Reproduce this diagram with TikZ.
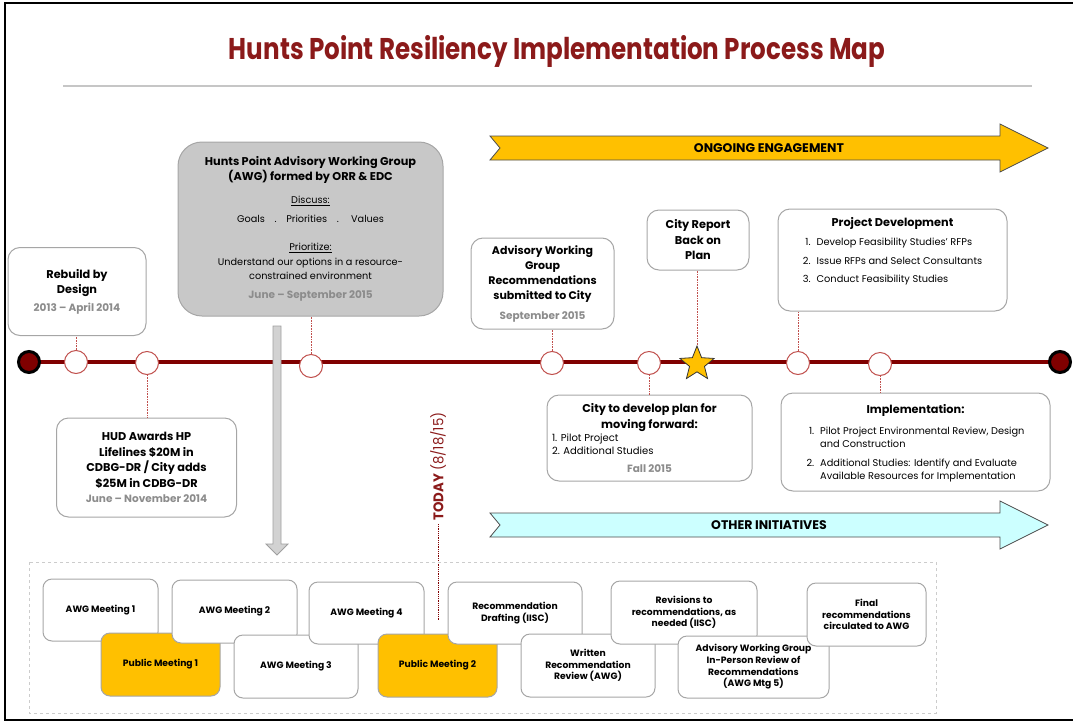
\documentclass[tikz,border=0pt]{standalone}
\usepackage{fontspec}
\setmainfont{Poppins}
\usepackage{xcolor}
\usetikzlibrary{
    shapes.geometric,
    positioning
}
\definecolor{hpred}{HTML}{8B1A1A}
\definecolor{tlred}{HTML}{800000}
\definecolor{dotred}{HTML}{C0504D}
\definecolor{hpyellow}{HTML}{FFC000}
\definecolor{hpcyan}{HTML}{CCFFFF}
\definecolor{boxgray}{HTML}{A6A6A6}
\definecolor{awgfill}{HTML}{C8C8C8}
\definecolor{dategray}{HTML}{8C8C8C}
\newcommand{\when}[1]{{\color{dategray}\fontsize{10.5}{13}\selectfont\bfseries #1}}
\newcommand{\sm}[1]{{\mdseries\fontsize{9.7}{12}\selectfont #1}}
\tikzset{
    box/.style={draw=boxgray, line width=1pt, rounded corners=12pt, fill=white, align=center, inner sep=2pt,
        font=\fontsize{11.3}{15.5}\selectfont\bfseries},
    mtg/.style={box, rounded corners=9pt, font=\fontsize{9.2}{11.7}\selectfont\bfseries},
    dot/.style={circle, draw=dotred, line width=1pt, fill=white, minimum size=23pt, inner sep=0pt},
    endpt/.style={circle, draw=black, line width=3pt, fill=tlred, minimum size=21pt, inner sep=0pt},
    conn/.style={draw=dotred, densely dotted, line width=0.6pt},
    band/.style={draw=black!70, line width=0.8pt},
    bandlbl/.style={font=\fontsize{12.5}{14}\selectfont\bfseries}
}
\begin{document}
\begin{tikzpicture}[x=1pt,y=-1pt]
\useasboundingbox (0,0) rectangle (1073,723);
% frame and title
\draw[line width=1.5pt] (1073,3) -- (5,3) -- (5,720) -- (1073,720);
\node[text=hpred, font=\fontsize{30}{32}\selectfont\bfseries] (ttl) at (557,51) {\scalebox{0.82}[1]{Hunts Point Resiliency Implementation Process Map}};
\draw[line width=2pt, gray!45] (63,86) -- (1032,86);

% engagement bands
\draw[band, fill=hpyellow] (490,136) -- (1000,136) -- (1000,124) -- (1048,148) -- (1000,172) -- (1000,160) -- (490,160) -- (500,148) -- cycle;
\node[bandlbl] (ongoing) at (769,148) {ONGOING ENGAGEMENT};
\draw[band, fill=hpcyan] (490,513) -- (1000,513) -- (1000,501) -- (1048,525) -- (1000,549) -- (1000,537) -- (490,537) -- (500,525) -- cycle;
\node[bandlbl] (other) at (769,525) {OTHER INITIATIVES};

% timeline
\coordinate (tlstart) at (29,362);
\coordinate (tlend) at (1060,362);
\draw[line width=4pt, tlred] (tlstart) -- (tlend);
\node[endpt] (lend) at (tlstart) {};
\node[endpt] (rend) at (tlend) {};
\node[dot] (t1) at (76,362) {};
\node[dot] (t2) at (147,363) {};
\node[dot] (t3) at (311,366) {};
\node[dot] (t4) at (552,363) {};
\node[dot] (t5) at (649,363) {};
\node[dot] (t6) at (798,363) {};
\node[dot] (t7) at (880,364) {};
\node[star, star points=5, star point ratio=2.3, minimum size=36pt, inner sep=0pt, fill=hpyellow, draw=black!80, line width=0.8pt] (rptstar) at (697,364) {};

% milestone boxes
\node[box, minimum width=138, minimum height=88] (rbd) at (77,291.5)
    {Rebuild by\\ Design\\[2pt] \when{2013 – April 2014}};
\node[box, fill=awgfill, rounded corners=24pt, minimum width=265, minimum height=174] (awg) at (310.5,229)
    {Hunts Point Advisory Working Group\\ (AWG) formed by ORR \& EDC\\[7pt]
     \sm{\underline{Discuss:}}\\[4pt]
     \sm{Goals\quad.\quad Priorities\quad.\quad\ Values}\\[12pt]
     \sm{\underline{Prioritize:}}\\ \sm{Understand our options in a resource-}\\[-2pt] \sm{constrained environment}\\[4pt]
     \when{June – September 2015}};
\node[box, minimum width=180, minimum height=99] (hud) at (146.5,467.5)
    {HUD Awards HP\\ Lifelines \$20M in\\ CDBG-DR / City adds\\ \$25M in CDBG-DR\\ \when{June – November 2014}};
\node[box, minimum width=143, minimum height=91, font=\fontsize{11}{15}\selectfont\bfseries] (rec) at (542.5,283.5)
    {Advisory Working\\ Group\\ Recommendations\\ submitted to City\\[5pt] \when{September 2015}};
\node[box, minimum width=102, minimum height=60] (report) at (698,240)
    {City Report\\ Back on\\ Plan};
\node[box, minimum width=229, minimum height=102] (pd) at (892.5,260)
    {\begin{minipage}[c][96pt][t]{222pt}\centering
     \vspace*{5pt}Project Development\par\vspace{7pt}
     \mdseries\fontsize{9.8}{12.5}\selectfont
     \begin{tabular}{@{}r@{\hspace{6pt}}l@{}}
     1. & Develop Feasibility Studies' RFPs\\[6pt]
     2. & Issue RFPs and Select Consultants\\[6pt]
     3. & Conduct Feasibility Studies
     \end{tabular}\end{minipage}};
\node[box, minimum width=205, minimum height=86] (plan) at (649.5,438)
    {\begin{minipage}{195pt}
     \centering City to develop plan for\\ moving forward:\par
     \raggedright\mdseries\fontsize{10}{13}\selectfont 1. Pilot Project\\ 2. Additional Studies\par\vspace{5pt}
     \centering\when{Fall 2015}\par\end{minipage}};
\node[box, minimum width=269, minimum height=98] (impl) at (915.5,442)
    {\begin{minipage}{262pt}\centering
     \vspace*{3pt}Implementation:\par\vspace{8pt}
     \mdseries\fontsize{9.8}{13}\selectfont
     \begin{tabular}{@{}r@{\hspace{6pt}}l@{}}
     1. & Pilot Project Environmental Review, Design\\
        & and Construction\\[6pt]
     2. & Additional Studies: Identify and Evaluate\\
        & Available Resources for Implementation
     \end{tabular}\end{minipage}};

% dotted links to the timeline
\draw[conn] (t1.north) -- (t1.north |- rbd.south);
\draw[conn] (t2.south) -- (t2.south |- hud.north);
\draw[conn] (t3.north) -- (t3.north |- awg.south);
\draw[conn] (t4.north) -- (t4.north |- rec.south);
\draw[conn] (t5.south) -- (t5.south |- plan.north);
\draw[conn] (rptstar.north) -- (rptstar.north |- report.south);
\draw[conn] (t6.north) -- (t6.north |- pd.south);
\draw[conn] (t7.south) -- (t7.south |- impl.north);

% AWG process
\draw[draw=gray!75, fill=gray!35, line width=0.8pt] (273,326) -- (281,326) -- (281,544) -- (288,544) -- (277,555) -- (266,544) -- (273,544) -- cycle;
\node[rotate=90, anchor=west, text=hpred, font=\fontsize{14}{16}\selectfont] (todaylbl) at (438,524)
    {\scalebox{0.95}[1]{\bfseries TODAY \mdseries(8/18/15)}};
\coordinate (todayend) at (438,621);
\draw[draw=tlred, densely dotted, line width=0.8pt] (todaylbl.west) -- (todayend);
\draw[gray!40, dashed, line width=0.8pt] (29,562) rectangle (936,713);

\node[mtg, minimum width=115, minimum height=62] (m1) at (100.5,610) {AWG Meeting 1};
\node[mtg, fill=hpyellow, minimum width=119, minimum height=63] (m2) at (160.5,664.5) {Public Meeting 1};
\node[mtg, minimum width=125, minimum height=63] (m3) at (234.5,611.5) {AWG Meeting 2};
\node[mtg, minimum width=124, minimum height=63] (m4) at (296,666.5) {AWG Meeting 3};
\node[mtg, minimum width=115, minimum height=62] (m5) at (366.5,613) {AWG Meeting 4};
\node[mtg, fill=hpyellow, minimum width=119, minimum height=63] (m6) at (437.5,665.5) {Public Meeting 2};
\node[mtg, minimum width=134, minimum height=62] (m7) at (515,613) {Recommendation\\ Drafting (IISC)};
\node[mtg, minimum width=134, minimum height=63] (m8) at (588,665.5) {Written\\ Recommendation\\ Review (AWG)};
\node[mtg, minimum width=146, minimum height=63] (m9) at (684,612.5) {Revisions to\\ recommendations, as\\ needed (IISC)};
\node[mtg, minimum width=151, minimum height=62] (m10) at (753.5,667) {Advisory Working Group\\ In-Person Review of\\ Recommendations\\ (AWG Mtg 5)};
\node[mtg, minimum width=119, minimum height=63] (m11) at (866.5,614.5) {Final\\ recommendations\\ circulated to AWG};
\end{tikzpicture}
\end{document}
